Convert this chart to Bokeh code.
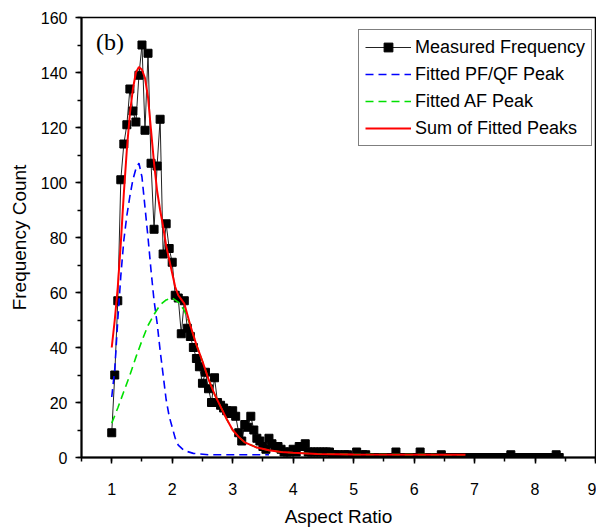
from bokeh.plotting import figure
from bokeh.models import Range1d, SingleIntervalTicker, Legend, LegendItem, Label
from bokeh.embed import file_html
from bokeh.resources import INLINE

# Measured frequency (aspect ratio bins)
meas_x = [1.00, 1.05, 1.10, 1.15, 1.20, 1.25, 1.30, 1.35, 1.40, 1.45,
          1.50, 1.55, 1.60, 1.65, 1.70, 1.75, 1.80, 1.85, 1.90, 1.95,
          2.00, 2.05, 2.10, 2.15, 2.20, 2.25, 2.30, 2.35, 2.40, 2.45,
          2.50, 2.55, 2.60, 2.65, 2.70, 2.75, 2.80, 2.85, 2.90, 2.95,
          3.00, 3.05, 3.10, 3.15, 3.20, 3.25, 3.30, 3.35, 3.40, 3.45,
          3.50, 3.55, 3.60, 3.65, 3.70, 3.75, 3.80, 3.85, 3.90, 3.95,
          4.00, 4.05, 4.10, 4.15, 4.20, 4.25, 4.30, 4.35, 4.40, 4.45,
          4.50, 4.55, 4.60, 4.65, 4.70, 4.75, 4.80, 4.85, 4.90, 4.95,
          5.00, 5.05, 5.10, 5.15, 5.20, 5.25, 5.30, 5.35, 5.40, 5.45,
          5.50, 5.55, 5.60, 5.65, 5.70, 5.75, 5.80, 5.85, 5.90, 5.95,
          6.00, 6.05, 6.10, 6.15, 6.20, 6.25, 6.30, 6.35, 6.40, 6.45,
          6.50, 6.55, 6.60, 6.65, 6.70, 6.75, 6.80, 6.85, 6.90, 6.95,
          7.00, 7.05, 7.10, 7.15, 7.20, 7.25, 7.30, 7.35, 7.40, 7.45,
          7.50, 7.55, 7.60, 7.65, 7.70, 7.75, 7.80, 7.85, 7.90, 7.95,
          8.00, 8.05, 8.10, 8.15, 8.20, 8.25, 8.30, 8.35, 8.40]
meas_y = [9, 30, 57, 101, 114, 121, 134, 126, 122, 139,
          150, 119, 147, 107, 83, 106, 123, 74, 85, 76,
          71, 59, 58, 45, 57, 47, 44, 40, 36, 33,
          27, 31, 25, 20, 29, 20, 19, 18, 17, 16,
          17, 15, 9, 6, 12, 11, 15, 10, 7, 6,
          4, 3, 7, 5, 4, 4, 3, 2, 2, 2,
          3, 2, 4, 4, 5, 2, 2, 2, 2, 2,
          2, 2, 2, 1, 1, 1, 0, 1, 1, 0,
          0, 2, 0, 1, 1, 0, 0, 0, 0, 0,
          0, 0, 0, 0, 2, 0, 0, 0, 0, 0,
          0, 0, 2, 0, 0, 0, 0, 0, 0, 1,
          0, 0, 0, 0, 0, 0, 0, 0, 0, 0,
          0, 0, 0, 0, 0, 0, 0, 0, 0, 0,
          0, 0, 1, 0, 0, 0, 0, 0, 0, 0,
          0, 0, 0, 0, 0, 0, 0, 1, 0]

# Fitted PF/QF peak (blue dashed)
pf_x = [1.00, 1.05, 1.10, 1.15, 1.20, 1.25, 1.30, 1.35, 1.40, 1.45,
        1.50, 1.55, 1.60, 1.65, 1.70, 1.75, 1.80, 1.85, 1.90, 1.95,
        2.00, 2.05, 2.10, 2.20, 2.35, 2.60, 3.00, 3.60]
pf_y = [22, 32, 50, 66, 79, 88, 95, 101, 105, 107,
        102, 91, 80, 68, 57, 49, 39, 30, 21, 15,
        11, 7, 4.5, 2.5, 1.5, 1.0, 1.0, 1.0]

# Fitted AF peak (green dashed)
af_x = [1.00, 1.10, 1.20, 1.30, 1.40, 1.50, 1.60, 1.70, 1.80, 1.90,
        2.00, 2.10, 2.20, 2.30, 2.40, 2.50, 2.60, 2.70, 2.80, 2.90,
        3.00, 3.10, 3.20, 3.40, 3.60, 3.80, 4.00, 4.40, 5.00, 6.85]
af_y = [12.5, 18, 24, 30, 36.5, 42.5, 48, 52, 55.5, 57.3,
        58, 56.5, 53.5, 48, 41, 35, 28.5, 23, 18.5, 14,
        10, 7.5, 5.5, 3.6, 2.6, 2.0, 1.7, 1.3, 1.1, 1.0]

# Sum of fitted peaks (red)
sum_x = [1.00, 1.05, 1.10, 1.15, 1.20, 1.25, 1.30, 1.35, 1.40, 1.45,
         1.50, 1.55, 1.60, 1.65, 1.70, 1.75, 1.80, 1.85, 1.90, 1.95,
         2.00, 2.05, 2.10, 2.15, 2.20, 2.25, 2.30, 2.35, 2.40, 2.50,
         2.60, 2.70, 2.80, 2.90, 3.00, 3.10, 3.20, 3.40, 3.60, 3.80,
         4.00, 4.40, 5.00, 6.85]
sum_y = [40, 50, 62, 78, 96, 112, 125, 134, 140, 142,
         141, 138, 131, 119, 107, 97, 90, 84, 77, 72,
         67, 62, 59, 57.5, 56, 52, 48, 44.5, 41, 35,
         28.5, 23, 18.5, 14, 10, 7.5, 5.5, 3.6, 2.6, 2.0,
         1.7, 1.3, 1.1, 1.0]

FONT = "Liberation Sans"

p = figure(width=596, height=529, x_range=Range1d(0.5, 9), y_range=Range1d(0, 160),
           output_backend="svg", toolbar_location=None,
           min_border_left=81, min_border_right=1, min_border_top=17, min_border_bottom=71)
p.xgrid.visible = False
p.ygrid.visible = False
p.outline_line_color = "black"
p.outline_line_width = 1.5
p.background_fill_color = "white"
p.border_fill_color = "white"

p.xaxis.ticker = SingleIntervalTicker(interval=1, num_minor_ticks=2)
p.yaxis.ticker = SingleIntervalTicker(interval=20, num_minor_ticks=2)
for ax in (p.xaxis, p.yaxis):
    ax.axis_line_width = 2
    ax.axis_line_color = "black"
    ax.major_tick_line_width = 1.5
    ax.minor_tick_line_width = 1.5
    ax.major_tick_out = 6
    ax.major_tick_in = 0
    ax.minor_tick_out = 4
    ax.minor_tick_in = 0
    ax.major_label_text_font = FONT
    ax.major_label_text_font_size = "16px"
    ax.major_label_text_color = "black"
    ax.axis_label_text_font = FONT
    ax.axis_label_text_font_size = "19px"
    ax.axis_label_text_font_style = "normal"
    ax.axis_label_text_color = "black"
p.xaxis.axis_label = "Aspect Ratio"
p.yaxis.axis_label = "Frequency Count"
p.xaxis.major_label_standoff = 19
p.yaxis.major_label_standoff = 8
p.xaxis.axis_label_standoff = 8
p.yaxis.axis_label_standoff = 8

r_line = p.line(meas_x, meas_y, line_color="#222222", line_width=1)
r_pts = p.scatter(meas_x, meas_y, marker="square", size=8, fill_color="black", line_color="black")
r_pf = p.line(pf_x, pf_y, line_color="#0000ff", line_width=1.6, line_dash="8 5")
r_af = p.line(af_x, af_y, line_color="#00e000", line_width=1.6, line_dash="8 5")
r_sum = p.line(sum_x, sum_y, line_color="#ff0000", line_width=2)

legend = Legend(items=[
    LegendItem(label="Measured Frequency", renderers=[r_line, r_pts]),
    LegendItem(label="Fitted PF/QF Peak", renderers=[r_pf]),
    LegendItem(label="Fitted AF Peak", renderers=[r_af]),
    LegendItem(label="Sum of Fitted Peaks", renderers=[r_sum]),
], location=(277, 311))
legend.label_text_font = FONT
legend.label_text_font_size = "18px"
legend.label_text_color = "black"
legend.glyph_width = 46
legend.glyph_height = 22
legend.label_height = 22
legend.label_standoff = 4
legend.spacing = 5
legend.padding = 6
legend.margin = 0
legend.border_line_color = "black"
legend.border_line_width = 1
legend.background_fill_alpha = 1
p.add_layout(legend)

p.add_layout(Label(x=0.74, y=151, text="(b)", text_font="Liberation Serif",
                   text_font_size="24px", text_baseline="middle", text_color="black"))

open("out.html", "w").write(file_html(p, INLINE))
